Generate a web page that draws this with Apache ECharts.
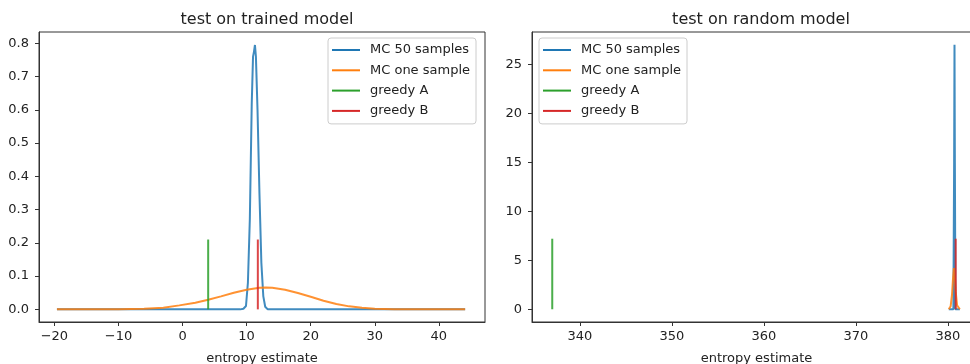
<!DOCTYPE html>
<html>
<head>
<meta charset="utf-8">
<script src="https://cdn.jsdelivr.net/npm/echarts@6/dist/echarts.min.js"></script>
<style>
  html, body { margin: 0; padding: 0; background: #fff; }
  #chart { width: 970px; height: 364px; }
</style>
</head>
<body>
<div id="chart"></div>
<script>
// names shared by both panels
const seriesNames = ["MC 50 samples", "MC one sample", "greedy A", "greedy B"];
const panelTitles = ["test on trained model", "test on random model"];
const xAxisLabel = "entropy estimate";

// left panel: trained model, [entropy, density]
const trainedMc50 = [
  [-19.6, 0], [0, 0], [9.0, 0], [9.5, 0.002], [9.9, 0.01], [10.2, 0.08],
  [10.5, 0.27], [10.8, 0.62], [11.0, 0.76], [11.15, 0.775], [11.3, 0.795],
  [11.45, 0.76], [11.7, 0.6], [12.0, 0.35], [12.3, 0.14], [12.6, 0.04],
  [12.9, 0.008], [13.3, 0], [30, 0], [44.1, 0]
];
const trainedMcOne = [
  [-19.6, 0], [-15, 0.0002], [-10, 0.0007], [-6, 0.002], [-3, 0.005],
  [-0.5, 0.012], [2, 0.02], [4, 0.029], [6, 0.039], [8, 0.05], [10, 0.059],
  [12, 0.065], [13, 0.066], [14, 0.065], [16, 0.059], [18, 0.049],
  [20, 0.038], [22, 0.026], [24, 0.016], [26, 0.009], [28, 0.005],
  [30, 0.002], [33, 0.0007], [36, 0.0002], [40, 0], [44.1, 0]
];
const trainedGreedyA = [[4.0, 0], [4.0, 0.21]];
const trainedGreedyB = [[11.75, 0], [11.75, 0.21]];

// right panel: random model
const randomMc50 = [
  [380.1, 0], [380.6, 0], [380.68, 15], [380.72, 27.0], [380.76, 15],
  [380.82, 0], [381.3, 0]
];
const randomMcOne = [
  [380.1, 0], [380.3, 0.3], [380.45, 1.5], [380.55, 3], [380.65, 4.2],
  [380.75, 3.5], [380.85, 1.8], [381.0, 0.4], [381.3, 0]
];
const randomGreedyA = [[337.0, 0], [337.0, 7.2]];
const randomGreedyB = [[380.85, 0], [380.85, 7.2]];

// tick labels
const leftXTicks = [-20, -10, 0, 10, 20, 30, 40];
const leftYTicks = [0, 0.1, 0.2, 0.3, 0.4, 0.5, 0.6, 0.7, 0.8];
const rightXTicks = [340, 350, 360, 370, 380];
const rightYTicks = [0, 5, 10, 15, 20, 25];

const COLORS = ["#1f77b4", "#ff7f0e", "#2ca02c", "#d62728"];
const FONT = "DejaVu Sans";
const INK = "#222";

const minus = (v) => String(v).replace("-", "\u2212");

function xAxis(gridIndex, min, max, ticks) {
  return {
    type: "value",
    gridIndex,
    min,
    max,
    name: xAxisLabel,
    nameLocation: "middle",
    nameGap: 30,
    nameTextStyle: { fontFamily: FONT, fontSize: 13, color: INK },
    splitLine: { show: false },
    axisLine: { show: true, onZero: false, lineStyle: { color: "#333" } },
    axisTick: { show: true, length: 4, customValues: ticks, lineStyle: { color: "#333" } },
    axisLabel: {
      customValues: ticks,
      margin: 8,
      fontFamily: FONT,
      fontSize: 13,
      color: INK,
      formatter: minus,
    },
  };
}

function yAxis(gridIndex, min, max, ticks, fmt) {
  return {
    type: "value",
    gridIndex,
    min,
    max,
    splitLine: { show: false },
    axisLine: { show: true, onZero: false, lineStyle: { color: "#333" } },
    axisTick: { show: true, length: 4, customValues: ticks, lineStyle: { color: "#333" } },
    axisLabel: {
      customValues: ticks,
      margin: 10,
      fontFamily: FONT,
      fontSize: 13,
      color: INK,
      formatter: fmt,
    },
  };
}

function line(name, data, idx, color) {
  return {
    type: "line",
    name,
    data,
    xAxisIndex: idx,
    yAxisIndex: idx,
    showSymbol: false,
    symbol: "none",
    color,
    lineStyle: { width: 2, color, opacity: 0.85 },
    silent: true,
  };
}

function legend(left) {
  return {
    orient: "vertical",
    left,
    top: 38,
    data: seriesNames,
    icon: "rect",
    itemWidth: 28,
    itemHeight: 2,
    itemGap: 4.3,
    padding: [4, 6, 5, 4],
    borderColor: "#ccc",
    borderWidth: 1,
    borderRadius: 3,
    backgroundColor: "rgba(255,255,255,0.8)",
    selectedMode: false,
    textStyle: {
      fontFamily: FONT,
      fontSize: 13,
      color: INK,
      lineHeight: 16,
      padding: [0, 0, 0, 5],
    },
  };
}

const chart = echarts.init(document.getElementById("chart"));
chart.setOption({
  animation: false,
  title: [
    {
      text: panelTitles[0],
      left: 262,
      top: 7,
      textAlign: "center",
      textStyle: { fontFamily: FONT, fontSize: 16, fontWeight: "normal", color: INK },
    },
    {
      text: panelTitles[1],
      left: 756,
      top: 7,
      textAlign: "center",
      textStyle: { fontFamily: FONT, fontSize: 16, fontWeight: "normal", color: INK },
    },
  ],
  legend: [legend(328), legend(539)],
  grid: [
    {
      left: 39, top: 32, width: 446, height: 290,
      outerBoundsMode: "none",
      show: true, borderColor: "#333", borderWidth: 1,
    },
    {
      left: 532, top: 32, width: 449, height: 290,
      outerBoundsMode: "none",
      show: true, borderColor: "#333", borderWidth: 1,
    },
  ],
  xAxis: [
    xAxis(0, -22.4, 47.2, leftXTicks),
    xAxis(1, 334.8, 383.6, rightXTicks),
  ],
  yAxis: [
    yAxis(0, -0.038, 0.834, leftYTicks, (v) => v.toFixed(1)),
    yAxis(1, -1.3, 28.3, rightYTicks, (v) => String(v)),
  ],
  series: [
    line(seriesNames[0], trainedMc50, 0, COLORS[0]),
    line(seriesNames[1], trainedMcOne, 0, COLORS[1]),
    line(seriesNames[2], trainedGreedyA, 0, COLORS[2]),
    line(seriesNames[3], trainedGreedyB, 0, COLORS[3]),
    line(seriesNames[0], randomMc50, 1, COLORS[0]),
    line(seriesNames[1], randomMcOne, 1, COLORS[1]),
    line(seriesNames[2], randomGreedyA, 1, COLORS[2]),
    line(seriesNames[3], randomGreedyB, 1, COLORS[3]),
  ],
});
</script>
</body>
</html>
